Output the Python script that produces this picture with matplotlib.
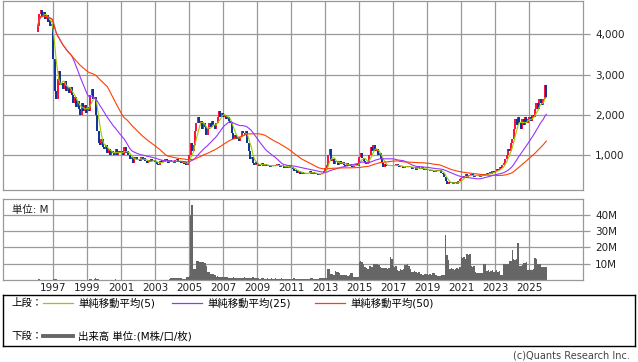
import numpy as np
import pandas as pd
import matplotlib
matplotlib.use('Agg')
import matplotlib.pyplot as plt

plt.rcParams['font.family'] = ['DejaVu Sans', 'Noto Sans CJK JP']

# monthly data, first bar = Feb 1996
start_year, start_month = 1996, 2
first_open = 4050

closes = [
    4200, 4500, 4620, 4450, 4550, 4380, 4480, 4300, 4350, 4200, 4250,        # 1996 (Feb-Dec)
    3400, 2600, 2400, 2900, 3100, 2750, 2800, 2650, 2850, 2600, 2700, 2550,  # 1997
    2700, 2500, 2300, 2450, 2200, 2350, 2150, 2000, 2300, 2100, 2250, 2050,  # 1998
    2200, 2100, 2500, 2650, 2400, 2450, 2000, 1600, 1300, 1250, 1400, 1200,  # 1999
    1150, 1250, 1050, 1150, 1000, 1100, 1050, 1000, 1150, 1000, 1100, 1050,  # 2000
    1100, 1000, 1200, 1050, 1100, 1000, 900, 950, 800, 900, 950, 880,        # 2001
    900, 850, 950, 880, 920, 850, 800, 870, 820, 900, 850, 880,              # 2002
    820, 780, 760, 850, 820, 880, 830, 900, 850, 800, 870, 830,              # 2003
    850, 800, 870, 900, 820, 860, 800, 840, 780, 820, 760, 800,              # 2004
    1000, 1300, 1100, 1250, 1600, 1800, 1950, 1800, 1850, 1650, 1800, 1700,  # 2005
    1500, 1650, 1800, 1700, 1850, 1750, 1650, 1800, 1950, 2100, 1950, 2050,  # 2006
    1950, 2000, 1900, 1950, 1850, 1800, 1550, 1400, 1500, 1400, 1450, 1350,  # 2007
    1450, 1600, 1550, 1500, 1600, 1300, 1100, 900, 950, 800, 750, 820,       # 2008
    780, 720, 760, 800, 740, 780, 720, 760, 740, 700, 760, 720,              # 2009
    760, 720, 780, 740, 700, 760, 720, 690, 740, 700, 680, 720,              # 2010
    700, 660, 600, 640, 560, 600, 540, 580, 520, 560, 530, 550,              # 2011
    560, 600, 540, 580, 520, 560, 540, 500, 540, 520, 560, 600,              # 2012
    680, 750, 1000, 1150, 850, 900, 780, 850, 820, 760, 850, 780,            # 2013
    820, 760, 740, 800, 720, 780, 740, 700, 760, 720, 780, 740,              # 2014
    950, 1050, 920, 860, 820, 780, 840, 1000, 1200, 1100, 1250, 1100,        # 2015
    1150, 1000, 1050, 900, 800, 700, 780, 740, 720, 760, 720, 740,           # 2016
    760, 720, 780, 740, 700, 740, 720, 680, 700, 740, 700, 720,              # 2017
    700, 660, 700, 680, 640, 700, 680, 660, 700, 650, 620, 660,              # 2018
    640, 620, 600, 640, 610, 580, 620, 600, 640, 620, 560, 520,              # 2019
    450, 350, 280, 320, 300, 330, 290, 320, 300, 280, 350, 400,              # 2020
    420, 450, 480, 520, 460, 500, 480, 520, 500, 460, 500, 480,              # 2021
    500, 460, 520, 480, 540, 500, 560, 520, 580, 540, 600, 560,              # 2022
    600, 650, 620, 700, 680, 750, 800, 900, 1000, 1150, 1100, 1300,          # 2023
    1400, 1650, 1900, 1750, 1950, 1800, 1650, 1900, 1750, 1950, 1800, 1900,  # 2024
    1950, 1850, 2000, 1950, 2150, 2300, 2150, 2400, 2300, 2250, 2400, 2750,  # 2025
    2450,                                                                    # 2026 (Jan)
]

# volume in millions of shares
volumes = [
    0.3, 0.4, 0.3, 0.3, 0.2, 0.3, 0.3, 0.2, 0.3, 0.3, 0.2,
    0.5, 0.6, 0.4, 0.3, 0.3, 0.3, 0.3, 0.2, 0.3, 0.3, 0.3, 0.2,
    0.3, 0.2, 0.3, 0.2, 0.3, 0.2, 0.2, 0.3, 0.3, 0.2, 0.2, 0.3,
    0.3, 0.2, 0.4, 0.5, 0.3, 0.4, 1.0, 0.8, 0.4, 0.3, 0.3, 0.2,
    0.3, 0.2, 0.3, 0.2, 0.2, 0.3, 0.2, 0.3, 0.6, 0.3, 0.2, 0.2,
    0.2, 0.2, 0.3, 0.2, 0.2, 0.2, 0.3, 0.2, 0.2, 0.2, 0.3, 0.2,
    0.2, 0.2, 0.2, 0.3, 0.2, 0.2, 0.2, 0.2, 0.3, 0.2, 0.2, 0.2,
    0.2, 0.2, 0.3, 0.2, 0.2, 0.3, 0.2, 0.3, 0.2, 0.3, 0.4, 1.3,
    1.2, 1.3, 1.1, 1.3, 1.2, 1.0, 1.2, 0.6, 0.5, 0.6, 1.8, 2.0,
    2.5, 40, 46, 7, 7, 11.7, 11.5, 11.2, 11.0, 11.2, 11.0, 10.5,
    8.5, 5, 5, 3.6, 3.6, 3.4, 3.0, 2.0, 2.2, 2.0, 1.8, 2.0,
    2.0, 1.8, 2.0, 1.6, 1.5, 1.5, 1.4, 1.6, 1.5, 1.3, 1.5, 1.4,
    1.5, 1.2, 1.3, 1.6, 1.2, 1.3, 1.5, 1.2, 1.5, 1.6, 1.4, 1.2,
    1.2, 1.0, 0.9, 1.5, 1.2, 0.9, 0.8, 1.0, 0.9, 0.8, 1.1, 0.9,
    0.8, 1.0, 0.9, 0.8, 0.7, 1.4, 0.9, 0.8, 0.7, 0.9, 0.8, 0.7,
    0.8, 0.7, 1.0, 0.8, 0.7, 0.6, 0.8, 0.7, 0.9, 0.7, 0.6, 0.8,
    0.7, 0.8, 1.2, 1.0, 0.8, 0.7, 0.9, 0.8, 1.3, 1.2, 1.5, 1.4,
    1.5, 1.5, 7, 6.5, 3.5, 3.5, 3.2, 5.3, 5.0, 5.0, 4.5, 3,
    3, 3.2, 2.8, 3, 2.5, 3, 4, 4, 2, 2, 2, 2,
    11, 11.5, 11, 10, 8, 7.5, 7, 8.5, 8.5, 8, 9.6, 9.6,
    9.6, 9.5, 9.0, 8, 7.5, 7.5, 7.5, 7.2, 7, 7.5, 14, 13,
    8.5, 8, 8.5, 6, 5.5, 6.5, 6, 6.5, 9, 9, 9.5, 8.5,
    7, 5, 5, 5.2, 4.8, 4.5, 5, 3.5, 3.5, 3.2, 3.5, 3.8,
    3.5, 3.2, 3.5, 2.8, 4, 4, 3, 2.5, 2.5, 2.2, 2.8, 3,
    3, 27.5, 15, 12, 7, 7.5, 6.5, 6, 7, 7.5, 6.5, 8,
    14, 13.5, 14, 13, 16, 15.5, 16, 8.5, 8, 8.5, 5, 4.5,
    4.5, 4, 4.5, 4, 10, 9.5, 5.5, 6, 5, 5.5, 6, 5,
    5.5, 6, 5, 5.5, 3, 3, 9.5, 9.6, 10, 9.5, 11.7, 11.5,
    18.5, 12.8, 12.5, 13, 22.8, 8.5, 8.5, 9, 10.6, 10.5, 11, 6.4,
    6.5, 6.4, 6, 6.5, 13.4, 13, 9.6, 9.5, 9.6, 8, 7.9, 7.8,
    7.8,
]

ma_windows = [5, 25, 50]
ma_colors = ['#99cc00', '#9933ff', '#ff4000']
ma_labels = ['単純移動平均(5)', '単純移動平均(25)', '単純移動平均(50)']
price_ticks = [1000, 2000, 3000, 4000]
volume_ticks = [10, 20, 30, 40]
year_ticks = list(range(1997, 2026, 2))

UP = '#ff0a3c'
DOWN = '#0a3296'
GRID = '#999999'
VOL = '#666666'

# build the frame
n = len(closes)
months = start_month - 1 + np.arange(n)
df = pd.DataFrame({'close': closes, 'volume': volumes})
df['x'] = start_year + months / 12.0
df['open'] = df['close'].shift(1).fillna(first_open)
for w in ma_windows:
    df[f'ma{w}'] = df['close'].rolling(w, min_periods=1).mean()

W, H = 638, 362
fig = plt.figure(figsize=(W / 100, H / 100), dpi=100)
ax1 = fig.add_axes([3.3 / W, 1 - 190 / H, 579.4 / W, 189.5 / H])
ax2 = fig.add_axes([3.3 / W, 1 - 280 / H, 579.4 / W, 81 / H])

for ax in (ax1, ax2):
    ax.set_xlim(1994.06, 2028.14)
    ax.set_xticks(year_ticks)
    ax.grid(True, color=GRID, lw=0.9)
    ax.set_axisbelow(True)
    for s in ax.spines.values():
        s.set_color(GRID)
        s.set_linewidth(0.9)
    ax.yaxis.tick_right()
    ax.tick_params(axis='y', length=5, width=0.9, color=GRID, pad=4,
                   labelsize=7.5, labelcolor='#222222')
    ax.tick_params(axis='x', length=0)

# upper panel: candles and moving averages
ax1.set_ylim(132, 4845)
ax1.set_yticks(price_ticks)
ax1.set_yticklabels([f'{v:,}' for v in price_ticks])
ax1.set_xticklabels([])

up = df['close'] >= df['open']
dn = ~up
ax1.vlines(df['x'][up], df['open'][up], df['close'][up], color=UP, lw=1.4, zorder=2)
ax1.vlines(df['x'][dn], df['open'][dn], df['close'][dn], color=DOWN, lw=1.4, zorder=2)
for w, c in zip(ma_windows, ma_colors):
    ax1.plot(df['x'], df[f'ma{w}'], color=c, lw=0.8, zorder=3)

# lower panel: volume
ax2.set_ylim(0, 49.5)
ax2.set_yticks(volume_ticks)
ax2.set_yticklabels([f'{v}M' for v in volume_ticks])
ax2.bar(df['x'], df['volume'], width=1 / 12, color=VOL, zorder=2)
ax2.set_xticklabels([str(y) for y in year_ticks])
ax2.tick_params(axis='x', pad=2, labelsize=7.5, labelcolor='#222222')
ax2.text(0.015, 0.93, '単位: M', transform=ax2.transAxes, fontsize=7.5,
         va='top', ha='left', color='#222222')

# legend box
ax3 = fig.add_axes([3.3 / W, 1 - 346 / H, 631.4 / W, 51 / H])
ax3.set_xlim(3.3, 634.7)
ax3.set_ylim(346, 295)
ax3.set_xticks([])
ax3.set_yticks([])
for s in ax3.spines.values():
    s.set_color('black')
    s.set_linewidth(1)

ax3.text(11.7, 303, '上段：', fontsize=7.5, va='center', ha='left')
line_x = [(43, 73), (172, 202), (315, 345)]
for (x0, x1), c, lab in zip(line_x, ma_colors, ma_labels):
    ax3.plot([x0, x1], [303, 303], color=c, lw=0.9)
    ax3.text(x1 + 5, 303, lab, fontsize=7.5, va='center', ha='left')

ax3.text(11.7, 336, '下段：', fontsize=7.5, va='center', ha='left')
ax3.plot([43, 73], [336, 336], color=VOL, lw=2.8)
ax3.text(78, 336, '出来高 単位:(M株/口/枚)', fontsize=7.5, va='center', ha='left')

fig.text(630 / W, 1 - 356 / H, '(c)Quants Research Inc.', ha='right', va='center',
         fontsize=7, color='#444444')

fig.savefig('out.png', dpi=100)
